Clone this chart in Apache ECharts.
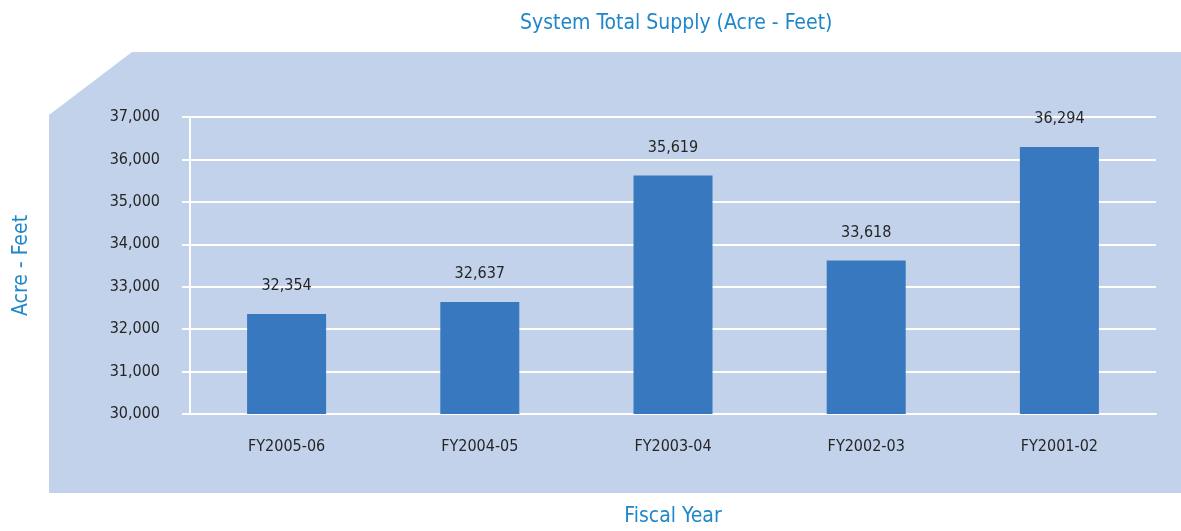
<!DOCTYPE html>
<html>
<head>
<meta charset="utf-8">
<script src="https://cdn.jsdelivr.net/npm/echarts@6/dist/echarts.min.js"></script>
<style>
  html, body { margin: 0; padding: 0; background: #fff; }
  #chart { width: 1181px; height: 531px; }
</style>
</head>
<body>
<div id="chart"></div>
<script>
var years = ["FY2005-06", "FY2004-05", "FY2003-04", "FY2002-03", "FY2001-02"];
var supply = [32354, 32637, 35619, 33618, 36294];
var yTicks = [30000, 37000, 1000]; // min, max, step

var font = "'Liberation Sans Narrow', 'DejaVu Sans Condensed', sans-serif";
var blueText = "#1f87c9";

var chart = echarts.init(document.getElementById("chart"));

var option = {
    animation: false,
    textStyle: { fontFamily: font },
    graphic: [{
        type: "polygon",
        z: -10,
        shape: { points: [[49, 115], [132, 52], [1181, 52], [1181, 493], [49, 493]] },
        style: { fill: "#c2d2eb" }
    }],
    title: {
        text: "System Total Supply (Acre - Feet)",
        left: 515,
        top: 8,
        textStyle: { color: blueText, fontSize: 21, fontWeight: "normal", fontFamily: font }
    },
    grid: { left: 190, right: 25, top: 117, bottom: 117, outerBoundsMode: "none", containLabel: false },
    xAxis: {
        type: "category",
        data: years,
        name: "Fiscal Year",
        nameLocation: "middle",
        nameGap: 92,
        nameTextStyle: { color: blueText, fontSize: 21, fontFamily: font },
        axisLine: { lineStyle: { color: "#fff", width: 2 } },
        axisTick: { show: false },
        axisLabel: { color: "#262626", fontSize: 16, margin: 25 }
    },
    yAxis: {
        type: "value",
        min: yTicks[0],
        max: yTicks[1],
        interval: yTicks[2],
        name: "Acre - Feet",
        nameLocation: "middle",
        nameRotate: 90,
        nameGap: 158,
        nameTextStyle: { color: blueText, fontSize: 21, fontFamily: font },
        axisLine: { show: true, lineStyle: { color: "#fff", width: 2 } },
        axisTick: { show: true, length: 8, lineStyle: { color: "#fff", width: 2 } },
        splitLine: { lineStyle: { color: "#fff", width: 2 } },
        axisLabel: {
            color: "#262626",
            fontSize: 16,
            margin: 30,
            formatter: function (v) { return v.toLocaleString("en-US"); }
        }
    },
    series: [{
        type: "bar",
        data: supply,
        barWidth: 79,
        itemStyle: { color: "#3878be" },
        label: {
            show: true,
            position: "top",
            distance: 20,
            color: "#262626",
            fontSize: 16,
            formatter: function (p) { return p.value.toLocaleString("en-US"); }
        }
    }]
};

chart.setOption(option);
</script>
</body>
</html>
